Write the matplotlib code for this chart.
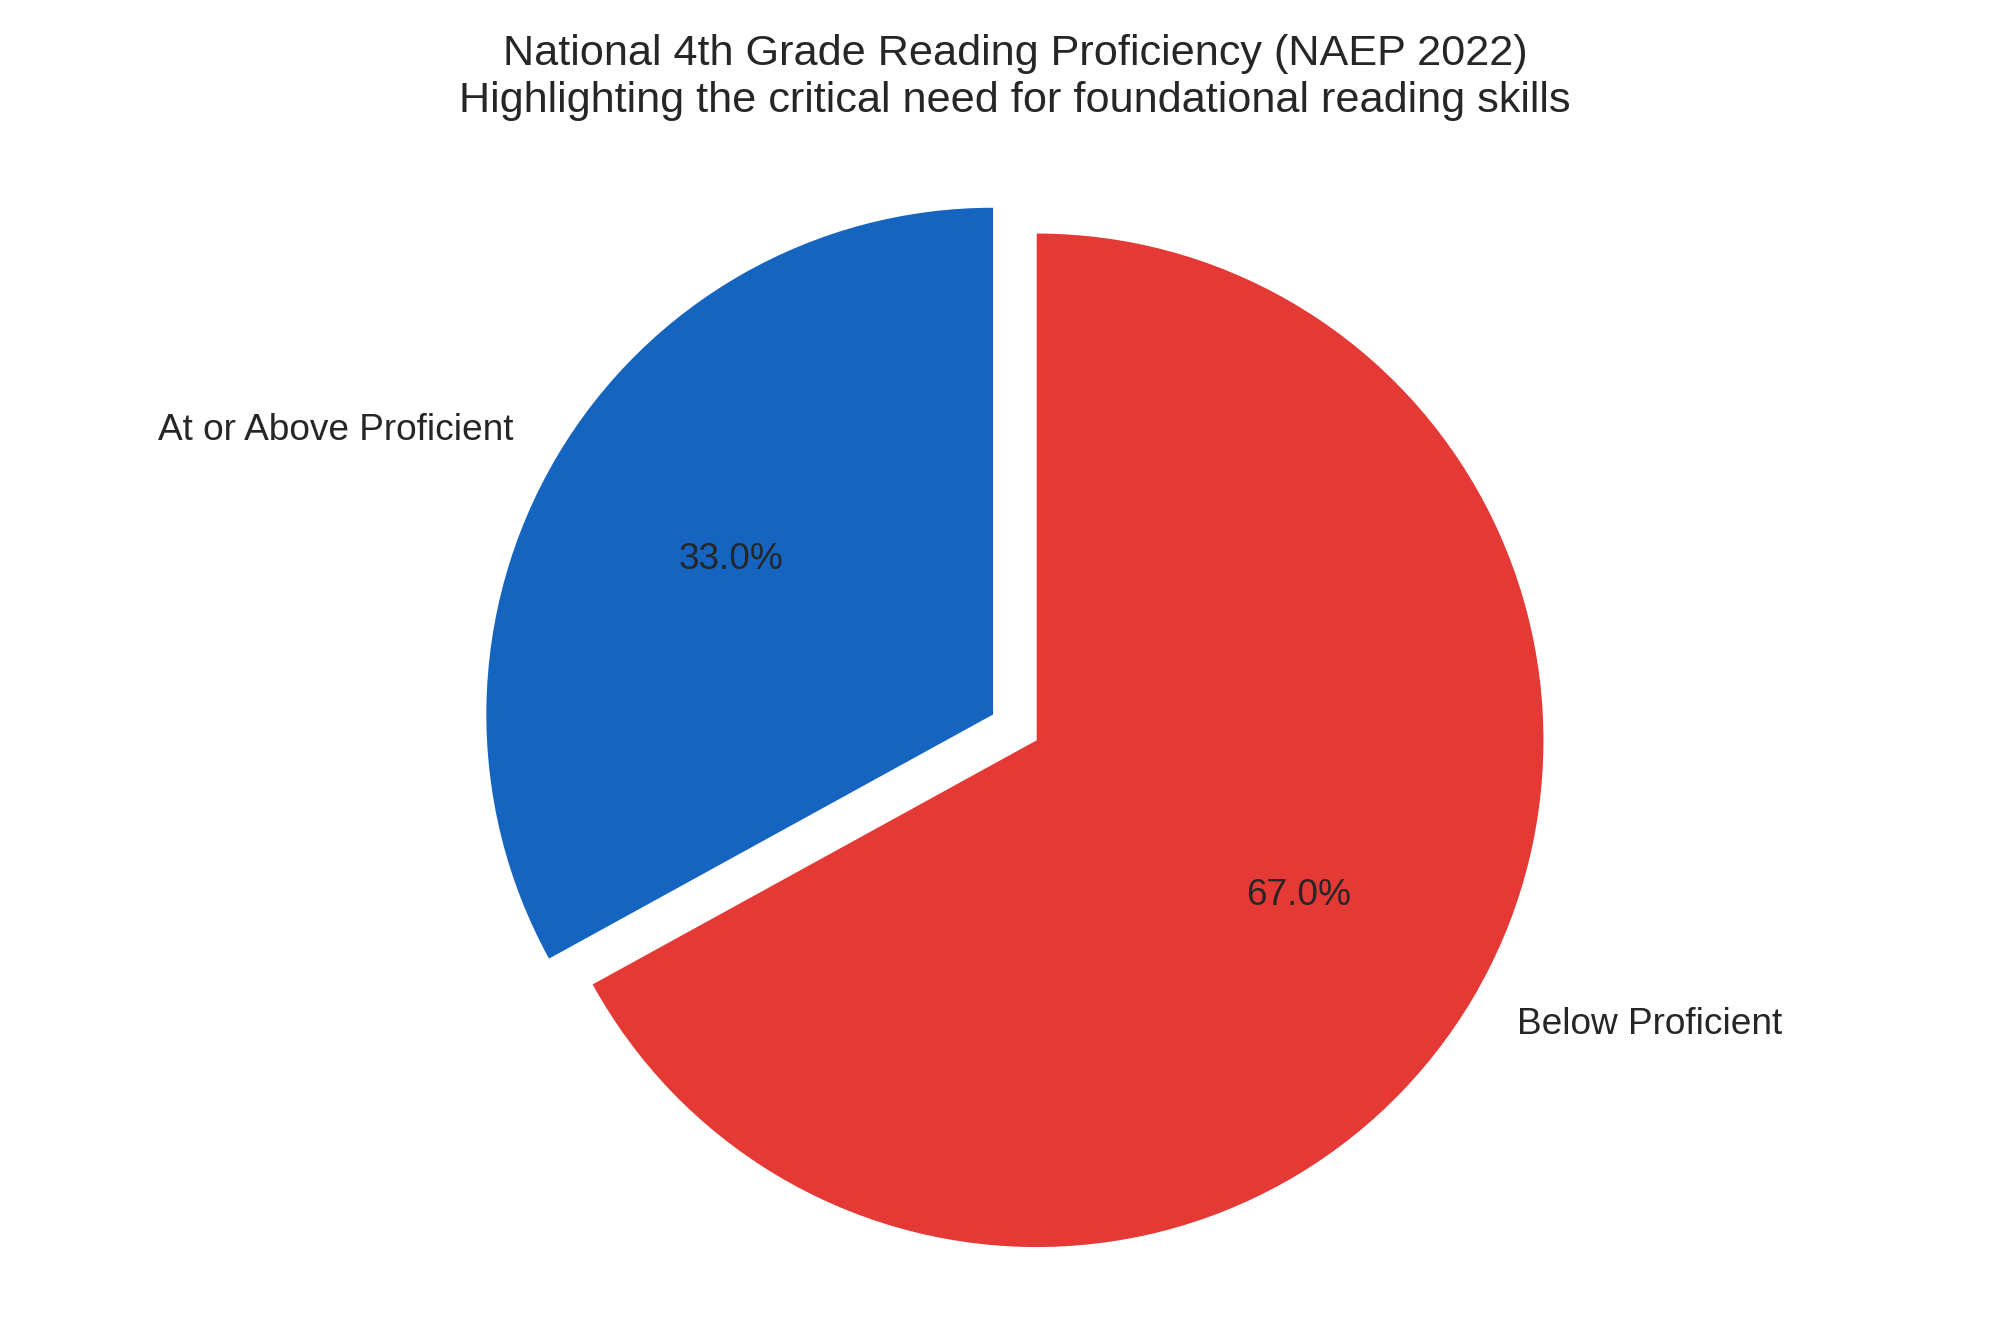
import matplotlib.pyplot as plt

labels = ["At or Above Proficient", "Below Proficient"]
sizes = [33.0, 67.0]
colors = ["#1565C0", "#E53935"]
explode = [0.1, 0.0]

title = ("National 4th Grade Reading Proficiency (NAEP 2022)\n"
         "Highlighting the critical need for foundational reading skills")


def main():
    plt.rcParams["font.family"] = ["Liberation Sans", "DejaVu Sans"]
    plt.rcParams["text.color"] = "#262626"

    fig, ax = plt.subplots(figsize=(12, 8))
    ax.pie(sizes, labels=labels, colors=colors, explode=explode,
           autopct="%1.1f%%", startangle=90,
           textprops={"fontsize": 16, "color": "#262626"})
    ax.axis("equal")
    ax.set_title(title, fontsize=18.7, color="#262626", pad=19.2)
    fig.subplots_adjust(left=0.035, right=0.98, top=0.883, bottom=0.0255)
    fig.savefig("out.png", dpi=166.65, facecolor="white")


if __name__ == "__main__":
    main()
